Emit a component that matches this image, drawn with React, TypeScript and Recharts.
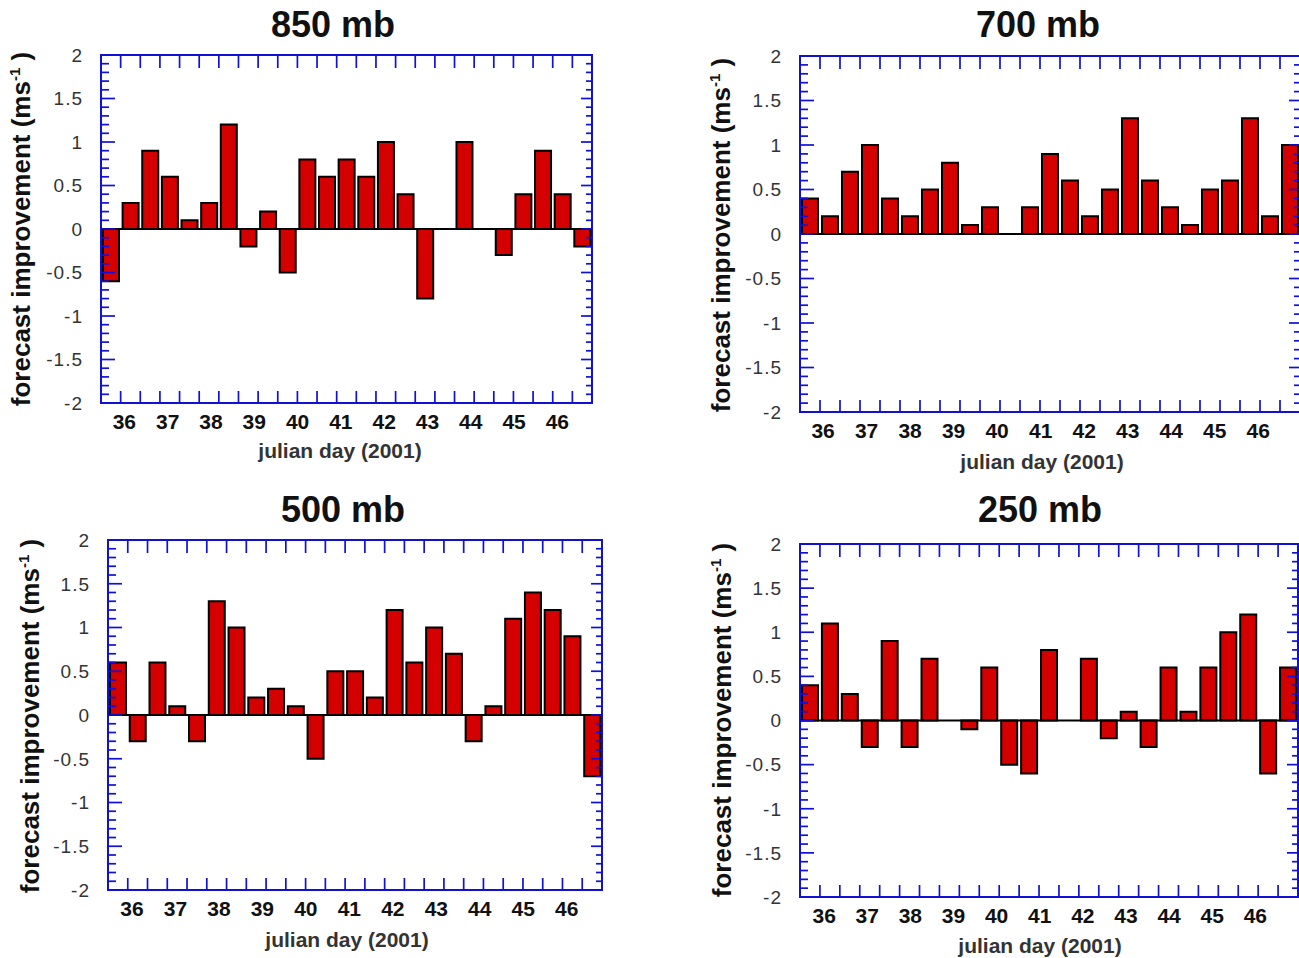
import React from 'react';
import { BarChart, Bar, Line, XAxis, YAxis, ReferenceLine, ReferenceArea } from 'recharts';

// julian day tick labels and value ticks shared by all four panels
const dayTicks = [36, 37, 38, 39, 40, 41, 42, 43, 44, 45, 46];
const yMinorTicks = Array.from({ length: 41 }, (_, i) => Math.round((-2 + i * 0.1) * 10) / 10);

// forecast improvement (m/s), one bar per 12h slot
const v850 = [-0.6, 0.3, 0.9, 0.6, 0.1, 0.3, 1.2, -0.2, 0.2, -0.5, 0.8, 0.6, 0.8, 0.6, 1.0, 0.4, -0.8, 0, 1.0, 0, -0.3, 0.4, 0.9, 0.4, -0.2];
const v700 = [0.4, 0.2, 0.7, 1.0, 0.4, 0.2, 0.5, 0.8, 0.1, 0.3, 0, 0.3, 0.9, 0.6, 0.2, 0.5, 1.3, 0.6, 0.3, 0.1, 0.5, 0.6, 1.3, 0.2, 1.0];
const v500 = [0.6, -0.3, 0.6, 0.1, -0.3, 1.3, 1.0, 0.2, 0.3, 0.1, -0.5, 0.5, 0.5, 0.2, 1.2, 0.6, 1.0, 0.7, -0.3, 0.1, 1.1, 1.4, 1.2, 0.9, -0.7];
const v250 = [0.4, 1.1, 0.3, -0.3, 0.9, -0.3, 0.7, 0, -0.1, 0.6, -0.5, -0.6, 0.8, 0, 0.7, -0.2, 0.1, -0.3, 0.6, 0.1, 0.6, 1.0, 1.2, -0.6, 0.6];

const FONT = '"Liberation Sans", Arial, sans-serif';
const BLUE = '#1010d8';
const RED = '#d40000';

const ML = 40;
const YW = 60;
const MT = 20;
const MR = 10;
const MB = 20;
const XH = 40;

type Pt = { x: number; y: number };
type PanelProps = {
  title: string;
  values: number[];
  plot: { l: number; t: number; r: number; b: number };
  titlePos: Pt;
  xLabelPos: Pt;
  yLabelPos: Pt;
  dayDomain: [number, number];
};

const isMajor = (v: number) => Math.abs(v * 2 - Math.round(v * 2)) < 1e-6;

const Panel: React.FC<PanelProps> = ({ title, values, plot, titlePos, xLabelPos, yLabelPos, dayDomain }) => {
  const { l, t, r, b } = plot;
  const plotW = r - l;
  const plotH = b - t;
  const width = plotW + ML + YW + MR;
  const height = plotH + MT + XH + 1 + MB;
  const data = values.map((v, i) => ({ slot: i, v }));
  const halfSlot = plotW / values.length / 2;

  // left labels + inward ticks on both sides of the frame
  const valueTick = (props: any) => {
    const { x, y, payload } = props;
    const v = payload.value as number;
    const major = isMajor(v);
    return (
      <g>
        <line x1={x} x2={x + (major ? 14 : 8)} y1={y} y2={y} stroke={BLUE} strokeWidth={1.7} />
        <line x1={x + plotW - (major ? 11 : 6)} x2={x + plotW} y1={y} y2={y} stroke={BLUE} strokeWidth={1.7} />
        {major && (
          <text
            x={x - 18}
            y={y}
            dy="0.36em"
            textAnchor="end"
            fill="#333"
            fontSize={19}
            fontFamily={FONT}
            letterSpacing={1}
          >
            {String(v)}
          </text>
        )}
      </g>
    );
  };

  // tick marks at the slot edges, bottom and top of the frame
  const slotTick = (props: any) => {
    const { x, y, index, payload } = props;
    if (index === 0) return <g />;
    const off = payload && typeof payload.offset === 'number' && payload.offset > 0 ? payload.offset : halfSlot;
    const bx = x - off;
    return (
      <g>
        <line x1={bx} x2={bx} y1={y} y2={y - 12} stroke={BLUE} strokeWidth={1.7} />
        <line x1={bx} x2={bx} y1={y - plotH} y2={y - plotH + 13} stroke={BLUE} strokeWidth={1.7} />
      </g>
    );
  };

  return (
    <>
      <div style={{ position: 'absolute', left: l - ML - YW, top: t - MT }}>
        <BarChart
          width={width}
          height={height}
          data={data}
          margin={{ top: MT, right: MR, bottom: MB, left: ML }}
          barCategoryGap="10%"
        >
          <XAxis
            xAxisId="cat"
            dataKey="slot"
            type="category"
            height={1}
            interval={0}
            axisLine={false}
            tickLine={false}
            tickSize={0}
            tickMargin={0}
            tick={slotTick}
          />
          <XAxis
            xAxisId="day"
            dataKey="slot"
            type="number"
            orientation="bottom"
            height={XH}
            domain={dayDomain}
            allowDataOverflow
            ticks={dayTicks}
            interval={0}
            axisLine={false}
            tickLine={false}
            tickSize={0}
            tickMargin={10}
            tick={{ fill: '#111', fontSize: 21, fontWeight: 'bold', fontFamily: FONT }}
          />
          <YAxis
            yAxisId="val"
            width={YW}
            domain={[-2, 2]}
            allowDataOverflow
            ticks={yMinorTicks}
            interval={0}
            axisLine={false}
            tickLine={false}
            tickSize={0}
            tickMargin={0}
            tick={valueTick}
          />
          <ReferenceArea
            xAxisId="cat"
            yAxisId="val"
            y1={-2}
            y2={2}
            fill="none"
            fillOpacity={0}
            stroke={BLUE}
            strokeWidth={2}
          />
          <ReferenceLine xAxisId="cat" yAxisId="val" y={0} stroke="#000" strokeWidth={2} />
          <Bar
            xAxisId="cat"
            yAxisId="val"
            dataKey="v"
            fill={RED}
            stroke="#000"
            strokeWidth={2}
            isAnimationActive={false}
          />
          <Line
            xAxisId="day"
            yAxisId="val"
            dataKey="v"
            stroke="none"
            dot={false}
            activeDot={false}
            legendType="none"
            isAnimationActive={false}
          />
        </BarChart>
      </div>
      <div
        style={{
          position: 'absolute',
          left: titlePos.x,
          top: titlePos.y,
          transform: 'translate(-50%, -50%)',
          font: `bold 36px ${FONT}`,
          color: '#111',
          whiteSpace: 'nowrap',
        }}
      >
        {title}
      </div>
      <div
        style={{
          position: 'absolute',
          left: xLabelPos.x,
          top: xLabelPos.y,
          transform: 'translate(-50%, -50%)',
          font: `bold 21px ${FONT}`,
          color: '#333',
          whiteSpace: 'nowrap',
        }}
      >
        julian day (2001)
      </div>
      <div
        style={{
          position: 'absolute',
          left: yLabelPos.x,
          top: yLabelPos.y,
          transform: 'translate(-50%, -50%) rotate(-90deg)',
          font: `bold 26px ${FONT}`,
          color: '#111',
          whiteSpace: 'nowrap',
        }}
      >
        forecast improvement (ms<sup style={{ fontSize: 15 }}>-1</sup> )
      </div>
    </>
  );
};

export default function App() {
  return (
    <div
      style={{
        position: 'absolute',
        left: 0,
        top: 0,
        width: 1299,
        height: 958,
        overflow: 'hidden',
        background: '#fff',
      }}
    >
      <Panel
        title="850 mb"
        values={v850}
        plot={{ l: 101, t: 55, r: 592, b: 403 }}
        titlePos={{ x: 333, y: 25 }}
        xLabelPos={{ x: 340, y: 451 }}
        yLabelPos={{ x: 21, y: 229 }}
        dayDomain={[35.46, 46.8]}
      />
      <Panel
        title="700 mb"
        values={v700}
        plot={{ l: 800, t: 56, r: 1300, b: 412 }}
        titlePos={{ x: 1038, y: 25 }}
        xLabelPos={{ x: 1042, y: 462 }}
        yLabelPos={{ x: 721, y: 235 }}
        dayDomain={[35.47, 46.96]}
      />
      <Panel
        title="500 mb"
        values={v500}
        plot={{ l: 108, t: 540, r: 602, b: 890 }}
        titlePos={{ x: 343, y: 510 }}
        xLabelPos={{ x: 347, y: 940 }}
        yLabelPos={{ x: 30, y: 716 }}
        dayDomain={[35.45, 46.81]}
      />
      <Panel
        title="250 mb"
        values={v250}
        plot={{ l: 800, t: 544, r: 1298, b: 897 }}
        titlePos={{ x: 1040, y: 510 }}
        xLabelPos={{ x: 1040, y: 946 }}
        yLabelPos={{ x: 722, y: 720 }}
        dayDomain={[35.44, 46.99]}
      />
    </div>
  );
}
